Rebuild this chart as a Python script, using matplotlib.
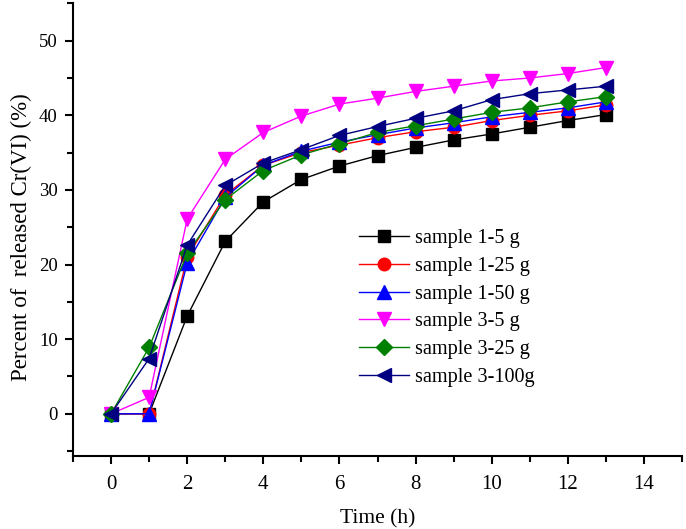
import matplotlib
matplotlib.use("Agg")
import matplotlib.pyplot as plt
from matplotlib.ticker import MultipleLocator

plt.rcParams['font.family'] = ['Liberation Serif', 'DejaVu Serif']

time_h = [0, 1, 2, 3, 4, 5, 6, 7, 8, 9, 10, 11, 12, 13]
s1_5 = [0, 0, 13.1, 23.1, 28.4, 31.4, 33.2, 34.6, 35.7, 36.7, 37.5, 38.4, 39.3, 40.1]
s1_25 = [0, 0, 21.0, 29.3, 33.3, 35.0, 36.0, 37.0, 37.8, 38.4, 39.3, 40.0, 40.6, 41.4]
s1_50 = [0, 0, 20.2, 29.0, 33.3, 35.2, 36.4, 37.4, 38.3, 39.0, 39.8, 40.4, 41.0, 41.8]
s3_5 = [0, 2.2, 26.1, 34.1, 37.7, 39.9, 41.5, 42.3, 43.2, 43.9, 44.6, 45.0, 45.6, 46.4]
s3_25 = [0, 8.9, 21.5, 28.7, 32.6, 34.7, 36.2, 37.7, 38.6, 39.5, 40.4, 41.0, 41.8, 42.5]
s3_100 = [0, 7.4, 22.6, 30.6, 33.6, 35.4, 37.3, 38.5, 39.6, 40.6, 42.1, 42.9, 43.4, 43.9]

labels = ['sample 1-5 g', 'sample 1-25 g', 'sample 1-50 g',
          'sample 3-5 g', 'sample 3-25 g', 'sample 3-100g']
series = [s1_5, s1_25, s1_50, s3_5, s3_25, s3_100]
colors = ['black', 'red', 'blue', '#FF00FF', '#008000', '#000080']
markers = ['s', 'o', '^', 'v', 'D', '<']
msizes = [8, 9, 9.5, 9.5, 8, 9.5]

fig = plt.figure(figsize=(6.86, 5.29), dpi=100)
ax = fig.add_axes([0.1064, 0.1388, 0.8878, 0.8548])

for y, lab, c, m, ms in zip(series, labels, colors, markers, msizes):
    ax.plot(time_h, y, color=c, marker=m, markersize=ms, linewidth=1.0,
            markeredgecolor=c, markerfacecolor=c, label=lab)

ax.set_xlim(-1, 15)
ax.set_ylim(-5.6, 55)
ax.xaxis.set_major_locator(MultipleLocator(2))
ax.xaxis.set_minor_locator(MultipleLocator(1))
ax.yaxis.set_major_locator(MultipleLocator(10))
ax.yaxis.set_minor_locator(MultipleLocator(5))
ax.spines['top'].set_visible(False)
ax.spines['right'].set_visible(False)
for s in ['left', 'bottom']:
    ax.spines[s].set_linewidth(1.5)
ax.tick_params(which='major', direction='out', length=6, width=1.5, pad=6)
ax.tick_params(which='minor', direction='out', length=4, width=1.5)
ax.tick_params(axis='x', which='major', labelsize=15, pad=8)
ax.tick_params(axis='y', which='major', labelsize=13.5, pad=5)

ax.set_xlabel('Time (h)', fontsize=15.5)
ax.xaxis.set_label_coords(0.5, -0.119)
ax.set_ylabel('Percent of  released Cr(VI) (%)', fontsize=16.5)
ax.yaxis.set_label_coords(-0.067, 0.483)

ax.legend(loc='upper left', bbox_to_anchor=(0.4696, 0.5007), frameon=False,
          fontsize=14.6, handlelength=2.46, labelspacing=0.42, handletextpad=0.3,
          borderaxespad=0, borderpad=0)

fig.savefig('out.png', dpi=100)
